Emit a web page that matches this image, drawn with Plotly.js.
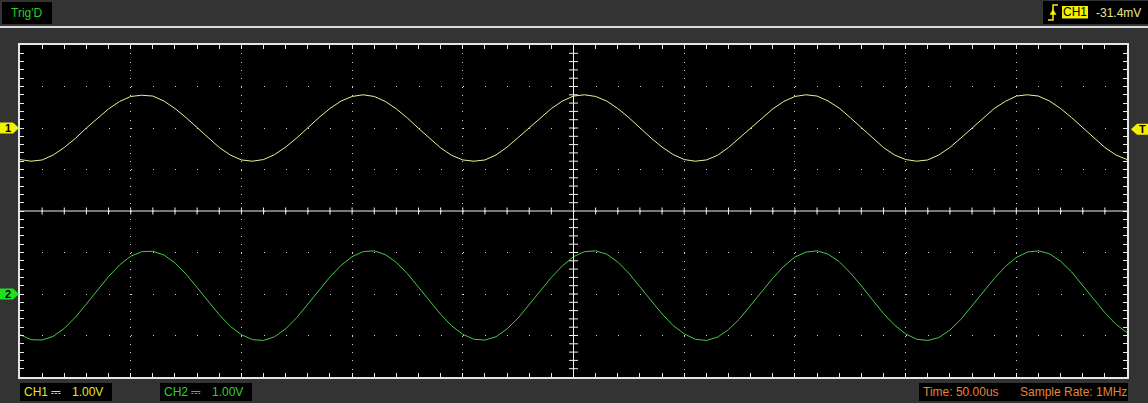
<!DOCTYPE html>
<html><head><meta charset="utf-8">
<script src="https://cdn.plot.ly/plotly-3.0.1.min.js"></script>
<style>html,body{margin:0;padding:0;background:#333;overflow:hidden}#chart{width:1148px;height:403px}</style>
</head><body><div id="chart"></div>
<script>
const timeUs = [0,5,10,15,20,25,30,35,40,45,50,55,60,65,70,75,80,85,90,95,
  100,105,110,115,120,125,130,135,140,145,150,155,160,165,170,175,180,185,190,195,
  200,205,210,215,220,225,230,235,240,245,250,255,260,265,270,275,280,285,290,295,
  300,305,310,315,320,325,330,335,340,345,350,355,360,365,370,375,380,385,390,395,
  400,405,410,415,420,425,430,435,440,445,450,455,460,465,470,475,480,485,490,495,500];

const ch1Volts = [-0.76,-0.80,-0.77,-0.65,-0.47,-0.25,0.00,0.24,0.46,0.64,0.76,0.79,0.77,0.65,0.47,0.25,0.01,-0.24,-0.47,-0.65,
  -0.77,-0.80,-0.76,-0.64,-0.46,-0.24,0.01,0.25,0.47,0.65,0.76,0.80,0.76,0.64,0.46,0.24,-0.01,-0.25,-0.48,-0.66,
  -0.77,-0.80,-0.77,-0.65,-0.46,-0.23,0.01,0.25,0.47,0.65,0.77,0.80,0.76,0.65,0.47,0.25,0.00,-0.24,-0.46,-0.64,
  -0.76,-0.80,-0.77,-0.66,-0.47,-0.24,0.00,0.24,0.46,0.64,0.76,0.80,0.77,0.65,0.48,0.25,0.01,-0.24,-0.47,-0.65,
  -0.76,-0.80,-0.77,-0.65,-0.47,-0.24,0.00,0.24,0.47,0.64,0.77,0.80,0.77,0.65,0.47,0.25,0.01,-0.24,-0.47,-0.65,-0.76];

const ch2Volts = [-0.98,-1.10,-1.11,-1.02,-0.83,-0.56,-0.24,0.10,0.42,0.70,0.91,1.02,1.03,0.94,0.75,0.48,0.16,-0.18,-0.50,-0.78,
  -0.98,-1.10,-1.12,-1.03,-0.84,-0.57,-0.25,0.09,0.41,0.69,0.90,1.02,1.04,0.95,0.76,0.49,0.17,-0.17,-0.49,-0.77,
  -0.97,-1.09,-1.11,-1.03,-0.84,-0.58,-0.26,0.08,0.40,0.68,0.90,1.02,1.04,0.96,0.77,0.50,0.18,-0.15,-0.48,-0.76,
  -0.96,-1.09,-1.12,-1.04,-0.86,-0.60,-0.28,0.06,0.38,0.67,0.89,1.01,1.04,0.96,0.78,0.51,0.20,-0.14,-0.47,-0.75,
  -0.96,-1.09,-1.12,-1.05,-0.87,-0.61,-0.29,0.05,0.37,0.66,0.88,1.01,1.04,0.97,0.79,0.53,0.21,-0.12,-0.45,-0.73,-0.93];

const channelNames = ['CH1','CH2'];
const voltsPerDiv  = [1.00, 1.00];
const positionDiv  = [2, -2];
const timePerDivUs = 50.00;
const sampleRate   = '1MHz';
const trigLevelV   = -0.0314;
const trigStatus   = "Trig'D";

// ---------------- geometry / style ----------------
const W=1148,H=403,L=20,R=1127,T=45,B=377;
const DIVX=10, DIVY=8, SUB=5;
const X = px => (px-L)/(R-L);
const Y = py => (B-py)/(B-T);
const FONT = 'Liberation Sans, Arial, Helvetica, sans-serif';
const gridCol = '#d4d4d4', frameCol = '#e6e6e6', axisCol = '#f0f0f0';
const ch1Col = '#eeee9a', ch2Col = '#48c848';
const tag1Col = '#f2f200', tag2Col = '#1fe01f';
const subX = (R-L)/DIVX/SUB, subY = (B-T)/DIVY/SUB;

const tRange = [0, timePerDivUs*DIVX];
const chRange = i => [(-DIVY/2 - positionDiv[i])*voltsPerDiv[i], (DIVY/2 - positionDiv[i])*voltsPerDiv[i]];

const layout = {
  width:W, height:H, margin:{l:L, r:W-R, t:T, b:H-B, pad:0},
  paper_bgcolor:'#333333', plot_bgcolor:'#000000', showlegend:false,
  // time axis: vertical dotted graticule + frame ticks
  xaxis: {range:tRange, tick0:0, dtick:timePerDivUs, showticklabels:false, fixedrange:true, zeroline:false,
    showgrid:true, gridcolor:gridCol, gridwidth:1, griddash:`1px,${(subY-1).toFixed(3)}px`,
    showline:true, linecolor:frameCol, linewidth:2, mirror:'allticks',
    ticks:'inside', ticklen:4, tickwidth:1, tickcolor:frameCol,
    minor:{dtick:timePerDivUs/SUB, ticks:'inside', ticklen:4, tickwidth:1, tickcolor:frameCol, showgrid:false}},
  // CH1 volts: one grid line per division + frame ticks
  yaxis: {range:chRange(0), tick0:0, dtick:voltsPerDiv[0], showticklabels:false, fixedrange:true, zeroline:false,
    showgrid:true, gridcolor:gridCol, gridwidth:1, griddash:`1px,${(subX-1).toFixed(3)}px`,
    showline:true, linecolor:frameCol, linewidth:2, mirror:'allticks',
    ticks:'inside', ticklen:4, tickwidth:1, tickcolor:frameCol,
    minor:{dtick:voltsPerDiv[0]/SUB, ticks:'inside', ticklen:4, tickwidth:1, tickcolor:frameCol, showgrid:false}},
  // CH2 volts
  yaxis2: {overlaying:'y', range:chRange(1), visible:false, fixedrange:true},
  shapes: [], annotations: []
};

const S = layout.shapes, A = layout.annotations;

// centre cross-hair with sub-division ticks
S.push({type:'line', xref:'paper', yref:'paper', x0:0, x1:1, y0:0.5, y1:0.5, line:{color:axisCol, width:1}, layer:'above'});
S.push({type:'line', xref:'paper', yref:'paper', x0:0.5, x1:0.5, y0:0, y1:1, line:{color:axisCol, width:1}, layer:'above'});
let hp = '', vp = '';
for (let i = 1; i < DIVX*SUB; i++) if (i !== DIVX*SUB/2) hp += `M${i/(DIVX*SUB)},-3.5 L${i/(DIVX*SUB)},3.5 `;
for (let j = 1; j < DIVY*SUB; j++) if (j !== DIVY*SUB/2) vp += `M-4.5,${j/(DIVY*SUB)} L4.5,${j/(DIVY*SUB)} `;
S.push({type:'path', xref:'paper', yref:'paper', ysizemode:'pixel', yanchor:0.5, path:hp, line:{color:axisCol, width:1}, layer:'above'});
S.push({type:'path', xref:'paper', yref:'paper', xsizemode:'pixel', xanchor:0.5, path:vp, line:{color:axisCol, width:1}, layer:'above'});

const rect = (x0,y0,x1,y1,fill) => S.push({type:'rect', xref:'paper', yref:'paper', x0:X(x0), x1:X(x1), y0:Y(y0), y1:Y(y1), fillcolor:fill, line:{width:0}, layer:'above'});
const text = (str, px, py, color, anchor) => A.push({text:str, xref:'paper', yref:'paper', x:X(px), y:Y(py),
  xanchor:anchor||'left', yanchor:'middle', showarrow:false, borderpad:0, font:{family:FONT, size:12, color:color}});

// separator line under status bar
S.push({type:'line', xref:'paper', yref:'paper', x0:X(0), x1:X(W), y0:Y(27), y1:Y(27), line:{color:'#dcdcdc', width:2}, layer:'above'});

// status boxes
rect(2,2,52,24,'#000000');
text(trigStatus, 27, 13.5, '#2ccc2c', 'center');

rect(1043,1,1148,24,'#000000');
S.push({type:'path', xref:'paper', yref:'paper', layer:'above',
  path:`M${X(1048)},${Y(20)} L${X(1053)},${Y(20)} L${X(1053)},${Y(5)} L${X(1058)},${Y(5)}`,
  line:{color:tag1Col, width:1.5}});
S.push({type:'path', xref:'paper', yref:'paper', layer:'above',
  path:`M${X(1050)},${Y(14.5)} L${X(1053)},${Y(9.5)} L${X(1056)},${Y(14.5)} Z`,
  fillcolor:tag1Col, line:{color:tag1Col, width:0.5}});
rect(1062,6,1088,18.5,tag1Col);
text(channelNames[0], 1075, 12.5, '#000000', 'center');
text(`${(trigLevelV*1000).toFixed(1)}mV`, 1095, 13, '#e6e68e');

// bottom info boxes
rect(20,383,112,401,'#000000');
text(`${channelNames[0]} \u2393`, 23, 392, '#e4e424');
text(`${voltsPerDiv[0].toFixed(2)}V`, 71, 392, '#e4e424');
rect(160,383,252,401,'#000000');
text(`${channelNames[1]} \u2393`, 163, 392, '#30d030');
text(`${voltsPerDiv[1].toFixed(2)}V`, 211, 392, '#30d030');
rect(919,383,1128,401,'#000000');
text(`Time: ${timePerDivUs.toFixed(2)}us`, 922, 392, '#e4843c');
text(`Sample Rate: ${sampleRate}`, 1019, 392, '#e4843c');

// channel ground markers and trigger marker (pixel-sized, anchored to channel scales)
const tagShape = (yref, yval, side, col) => {
  const p = side==='left'
    ? 'M-20,5.5 L-7,5.5 L-1,0 L-7,-5.5 L-20,-5.5 Z'
    : 'M4,0 L10,5.5 L21,5.5 L21,-5.5 L10,-5.5 Z';
  S.push({type:'path', xref:'paper', xanchor: side==='left'?0:1, xsizemode:'pixel',
    yref:yref, yanchor:yval, ysizemode:'pixel', path:p, fillcolor:col, line:{width:0}, layer:'above'});
};
tagShape('y', 0, 'left', tag1Col);
tagShape('y2', 0, 'left', tag2Col);
tagShape('y', trigLevelV, 'right', tag1Col);
const tagText = (str, xp, xs, yref, yval) => A.push({text:'<b>'+str+'</b>', xref:'paper', x:xp, xshift:xs, yref:yref, y:yval,
  xanchor:'center', yanchor:'middle', showarrow:false, borderpad:0, font:{family:FONT, size:11, color:'#000000'}});
tagText('1', 0, -12, 'y', 0);
tagText('2', 0, -12, 'y2', 0);
tagText('T', 1, 15, 'y', trigLevelV);

const traces = [
  {x:timeUs, y:ch1Volts, xaxis:'x', yaxis:'y', type:'scatter', mode:'lines', line:{color:ch1Col, width:1}, hoverinfo:'skip'},
  {x:timeUs, y:ch2Volts, xaxis:'x', yaxis:'y2', type:'scatter', mode:'lines', line:{color:ch2Col, width:1}, hoverinfo:'skip'}
];

Plotly.newPlot('chart', traces, layout, {staticPlot:true, displayModeBar:false});
</script>
</body></html>
